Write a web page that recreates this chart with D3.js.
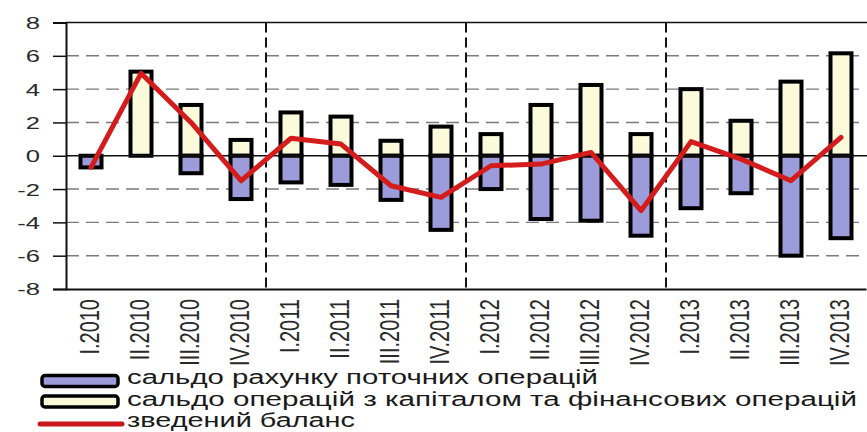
<!DOCTYPE html>
<html>
<head>
<meta charset="utf-8">
<script src="https://cdn.jsdelivr.net/npm/d3@7/dist/d3.min.js"></script>
<style>
  html, body { margin: 0; padding: 0; background: #fff; }
  svg { display: block; font-family: "Liberation Sans", Arial, sans-serif; }
</style>
</head>
<body>
<svg id="chart" width="867" height="432"></svg>
<script>
const categories = ["I.2010","II.2010","III.2010","IV.2010","I.2011","II.2011","III.2011","IV.2011",
                    "I.2012","II.2012","III.2012","IV.2012","I.2013","II.2013","III.2013","IV.2013"];
const currentAccount = [-0.7, 0, -1.05, -2.6, -1.6, -1.75, -2.65, -4.45, -2.0, -3.8, -3.9, -4.8, -3.15, -2.25, -6.0, -4.95];
const capitalFinancial = [0, 5.05, 3.05, 0.95, 2.6, 2.35, 0.9, 1.75, 1.3, 3.05, 4.25, 1.3, 4.0, 2.1, 4.45, 6.15];
const overallBalance = [-0.7, 4.95, 2.0, -1.5, 1.05, 0.7, -1.8, -2.5, -0.6, -0.5, 0.2, -3.3, 0.85, -0.2, -1.5, 1.1];
const yTicks = [-8, -6, -4, -2, 0, 2, 4, 6, 8];
const yearSeparators = ["I.2011", "I.2012", "I.2013"];
const legendLabels = ["сальдо рахунку поточних операцій",
                      "сальдо операцій з капіталом та фінансових операцій",
                      "зведений баланс"];

const svg = d3.select("#chart");
const plotLeft = 66, plotRight = 866, plotTop = 22.5, plotBottom = 289;

const x = d3.scaleBand().domain(categories).range([plotLeft, plotRight]).paddingInner(0.58).paddingOuter(0.29);
const xc = d3.scaleBand().domain(categories).range([plotLeft, plotRight]);
const y = d3.scaleLinear().domain([-8, 8]).range([plotBottom, plotTop]);

// horizontal gridlines
svg.append("g").selectAll("line").data(yTicks.filter(d => d !== 0 && d !== 8 && d !== -8)).join("line")
  .attr("x1", plotLeft).attr("x2", plotRight).attr("y1", d => y(d)).attr("y2", d => y(d))
  .attr("stroke", "#7a7a7a").attr("stroke-width", 1.4).attr("stroke-dasharray", "13,7");

// top border
svg.append("line").attr("x1", plotLeft).attr("x2", 867).attr("y1", y(8)).attr("y2", y(8))
  .attr("stroke", "#111").attr("stroke-width", 1.6);

// year separators
svg.append("g").selectAll("line").data(yearSeparators).join("line")
  .attr("x1", d => xc(d)).attr("x2", d => xc(d)).attr("y1", y(8)).attr("y2", y(-8))
  .attr("stroke", "#111").attr("stroke-width", 2).attr("stroke-dasharray", "10,5");

// bars
const bars = svg.append("g");
bars.selectAll("rect.cap").data(categories).join("rect").attr("class", "cap")
  .attr("x", d => x(d)).attr("width", x.bandwidth())
  .attr("y", (d, i) => y(Math.max(0, capitalFinancial[i])))
  .attr("height", (d, i) => Math.abs(y(capitalFinancial[i]) - y(0)))
  .attr("fill", "#fbfbdc").attr("stroke", "#000").attr("stroke-width", 4)
  .style("display", (d, i) => capitalFinancial[i] === 0 ? "none" : null);
bars.selectAll("rect.cur").data(categories).join("rect").attr("class", "cur")
  .attr("x", d => x(d)).attr("width", x.bandwidth())
  .attr("y", (d, i) => y(Math.max(0, currentAccount[i])))
  .attr("height", (d, i) => Math.abs(y(currentAccount[i]) - y(0)))
  .attr("fill", "#9d9cda").attr("stroke", "#000").attr("stroke-width", 4)
  .style("display", (d, i) => currentAccount[i] === 0 ? "none" : null);

// zero line
svg.append("line").attr("x1", plotLeft).attr("x2", 867).attr("y1", y(0)).attr("y2", y(0))
  .attr("stroke", "#111").attr("stroke-width", 1.5);

// y axis
const yAxis = svg.append("g").attr("transform", `translate(${plotLeft},0)`)
  .call(d3.axisLeft(y).tickValues(yTicks).tickSize(13).tickFormat(d3.format("d")));
yAxis.select(".domain").attr("stroke", "#111").attr("stroke-width", 2);
yAxis.selectAll(".tick line").attr("stroke", "#111").attr("stroke-width", 1.5);
yAxis.selectAll(".tick text")
  .attr("x", 0).attr("dy", "0.36em")
  .attr("transform", "translate(-26,0) scale(1.55,1)")
  .attr("font-size", 16.5).attr("fill", "#2a2a2a")
  .text(d => d < 0 ? "-" + Math.abs(d) : d);

// x axis
const xAxis = svg.append("g").attr("transform", `translate(0,${plotBottom})`)
  .call(d3.axisBottom(xc).tickSize(0));
xAxis.select(".domain").attr("stroke", "#111").attr("stroke-width", 2);
xAxis.selectAll(".tick text")
  .attr("x", 0).attr("y", 0).attr("dy", "0.36em")
  .attr("text-anchor", "end")
  .attr("transform", "translate(-2,10) scale(1.35,1) rotate(-90)")
  .attr("font-size", 20).attr("fill", "#2a2a2a");

// balance line
const line = d3.line().x((d, i) => xc(categories[i]) + xc.bandwidth() / 2).y(d => y(d));
svg.append("path").datum(overallBalance)
  .attr("d", line).attr("fill", "none")
  .attr("stroke", "#d41c1c").attr("stroke-width", 5).attr("stroke-linejoin", "round").attr("stroke-linecap", "round");

// legend
const lg = svg.append("g");
const rowY = [381, 401.5, 424];
const baseY = [384, 405.5, 427];
const textLens = [471, 730, 228];
lg.append("rect").attr("x", 42).attr("y", rowY[0] - 5.5).attr("width", 76).attr("height", 11).attr("rx", 3)
  .attr("fill", "#9d9cda").attr("stroke", "#000").attr("stroke-width", 3.5);
lg.append("rect").attr("x", 42).attr("y", rowY[1] - 5.5).attr("width", 76).attr("height", 11).attr("rx", 3)
  .attr("fill", "#fbfbdc").attr("stroke", "#000").attr("stroke-width", 3.5);
lg.append("line").attr("x1", 40).attr("x2", 122).attr("y1", rowY[2]).attr("y2", rowY[2])
  .attr("stroke", "#c8161c").attr("stroke-width", 5).attr("stroke-linecap", "round");
lg.selectAll("text").data(legendLabels).join("text")
  .attr("x", 127).attr("y", (d, i) => baseY[i])
  .attr("font-size", 20).attr("fill", "#1a1a1a")
  .attr("textLength", (d, i) => textLens[i]).attr("lengthAdjust", "spacingAndGlyphs")
  .text(d => d);
</script>
</body>
</html>
